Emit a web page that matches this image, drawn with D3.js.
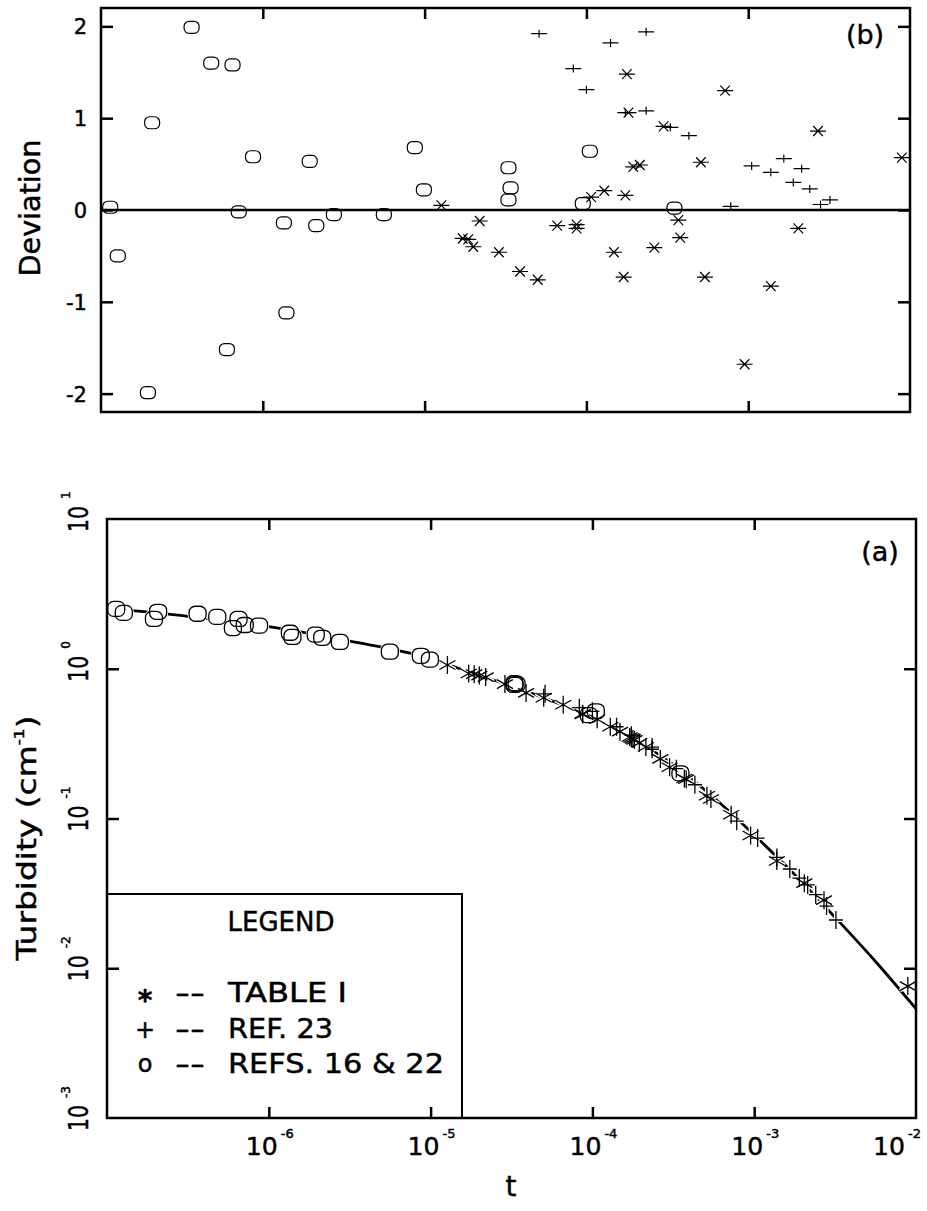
<!DOCTYPE html>
<html>
<head>
<meta charset="utf-8">
<script src="https://cdn.jsdelivr.net/npm/d3@7"></script>
<style>
  body { margin: 0; background: #fff; }
  svg { display: block; }
  text { font-family: "DejaVu Sans", sans-serif; fill: #000; stroke: #000; stroke-width: 0.45; }
</style>
</head>
<body>
<svg width="927" height="1211"></svg>
<script>
// ---- data ----
// Table I (asterisks)
var tableT   = [1.27e-5, 1.72e-5, 1.86e-5, 2.0e-5, 2.19e-5, 2.88e-5, 3.89e-5, 5.0e-5, 6.6e-5, 8.7e-5, 8.7e-5,
                1.07e-4, 1.29e-4, 1.48e-4, 1.70e-4, 1.74e-4, 1.78e-4, 1.82e-4, 1.95e-4, 2.14e-4, 2.63e-4, 3.0e-4,
                3.7e-4, 3.8e-4, 5.1e-4, 5.4e-4, 7.2e-4, 9.5e-4, 1.38e-3, 2.04e-3, 2.7e-3, 8.9e-3];
var tableTau = [1.06, 0.93, 0.92, 0.90, 0.88, 0.79, 0.69, 0.64, 0.575, 0.50, 0.495,
                0.46, 0.41, 0.38, 0.35, 0.345, 0.34, 0.335, 0.32, 0.30, 0.25, 0.22,
                0.185, 0.183, 0.142, 0.135, 0.106, 0.077, 0.052, 0.037, 0.0285, 0.0076];
var tableDev = [0.05, -0.31, -0.32, -0.40, -0.12, -0.46, -0.67, -0.76, -0.17, -0.16, -0.20,
                0.14, 0.21, -0.46, -0.73, 0.16, 1.48, 1.06, 0.47, 0.49, -0.41, 0.91,
                -0.11, -0.30, 0.52, -0.73, 1.30, -1.68, -0.83, -0.20, 0.86, 0.57];

// Ref. 23 (plus signs)
var ref23T   = [5.1e-5, 8.3e-5, 1.0e-4, 1.41e-4, 1.74e-4, 2.34e-4, 2.34e-4, 3.3e-4, 4.3e-4,
                7.8e-4, 1.05e-3, 1.38e-3, 1.66e-3, 1.9e-3, 2.14e-3, 2.4e-3, 2.8e-3, 3.2e-3];
var ref23Tau = [0.68, 0.55, 0.52, 0.41, 0.36, 0.30, 0.29, 0.215, 0.168,
                0.096, 0.074, 0.055, 0.046, 0.040, 0.036, 0.031, 0.026, 0.021];
var ref23Dev = [1.92, 1.54, 1.31, 1.82, 1.06, 1.94, 1.08, 0.90, 0.81,
                0.04, 0.48, 0.41, 0.56, 0.30, 0.45, 0.23, 0.06, 0.11];

// Refs. 16 & 22 (open circles)
var refsT   = [1.14e-7, 1.27e-7, 1.95e-7, 2.07e-7, 3.63e-7, 4.8e-7, 6.0e-7, 6.5e-7, 7.1e-7, 8.7e-7,
               1.35e-6, 1.40e-6, 1.95e-6, 2.14e-6, 2.75e-6, 5.6e-6, 8.7e-6, 9.9e-6,
               3.3e-5, 3.4e-5, 3.3e-5, 1.05e-4, 9.5e-5, 3.5e-4];
var refsTau = [2.51, 2.36, 2.15, 2.40, 2.33, 2.22, 1.87, 2.15, 1.96, 1.94,
               1.74, 1.63, 1.69, 1.61, 1.51, 1.30, 1.22, 1.15,
               0.80, 0.79, 0.78, 0.52, 0.49, 0.20];
var refsDev = [0.03, -0.50, -1.99, 0.95, 1.99, 1.60, -1.52, 1.58, -0.02, 0.58,
               -0.14, -1.12, 0.53, -0.17, -0.05, -0.05, 0.68, 0.22,
               0.46, 0.24, 0.11, 0.64, 0.07, 0.02];

// fitted turbidity curve
var curveT   = [1e-7, 3.16e-7, 1e-6, 3.16e-6, 1e-5, 1.78e-5, 3.16e-5, 5.62e-5, 1e-4, 1.78e-4,
                3.16e-4, 5.62e-4, 1e-3, 1.78e-3, 3.16e-3, 5.62e-3, 1e-2];
var curveTau = [2.54, 2.24, 1.91, 1.53, 1.17, 0.94, 0.767, 0.61, 0.473, 0.343,
                0.229, 0.138, 0.0776, 0.0422, 0.0219, 0.0111, 0.00537];

// ticks / labels
var devTicks    = [2, 1, 0, -1, -2];
var decadeTicks = [1e-6, 1e-5, 1e-4, 1e-3];
var xLabelTicks = [1e-6, 1e-5, 1e-4, 1e-3, 1e-2];
var tauTicks    = [10, 1, 0.1, 0.01, 0.001];
var legendRows  = [["*", "TABLE I"], ["+", "REF. 23"], ["o", "REFS. 16 & 22"]];

var svg = d3.select("svg");

// marker shapes
function starH(w, h) { return "M" + (-w) + ",0H" + w + "M" + (-w * 0.6) + "," + (-h) + "L" + (w * 0.6) + "," + h +
                              "M" + (-w * 0.6) + "," + h + "L" + (w * 0.6) + "," + (-h); }
function starV(w, h) { return "M0," + (-h) + "V" + h + "M" + (-w) + "," + (-h / 2) + "L" + w + "," + (h / 2) +
                              "M" + (-w) + "," + (h / 2) + "L" + w + "," + (-h / 2); }
function plus(w, h)  { return "M" + (-w) + ",0H" + w + "M0," + (-h) + "V" + h; }

function marks(g, data, x, y, kind, opt) {
  var sel = g.selectAll(null).data(data);
  if (kind === "circle") {
    return sel.enter().append("rect")
      .attr("x", function (d) { return x(d[0]) - opt.w / 2; })
      .attr("y", function (d) { return y(d[1]) - opt.h / 2; })
      .attr("width", opt.w).attr("height", opt.h)
      .attr("rx", opt.r).attr("ry", opt.r)
      .attr("fill", opt.fill || "none")
      .attr("stroke", opt.stroke).attr("stroke-width", opt.sw);
  }
  return sel.enter().append("path")
    .attr("transform", function (d) { return "translate(" + x(d[0]) + "," + y(d[1]) + ")"; })
    .attr("d", opt.path)
    .attr("fill", "none")
    .attr("stroke", opt.stroke).attr("stroke-width", opt.sw);
}

// ================= panel (b): deviation =================
var xb = d3.scaleLog().domain([1e-7, 1e-2]).range([101, 910]);
var yb = d3.scaleLinear().domain([-2.2, 2.2]).range([412, 8]);
var gB = svg.append("g");

gB.append("line")
  .attr("x1", xb.range()[0]).attr("x2", xb.range()[1])
  .attr("y1", yb(0)).attr("y2", yb(0))
  .attr("stroke", "#000").attr("stroke-width", 2.5);

marks(gB, d3.zip(refsT, refsDev), xb, yb, "circle", {w: 15, h: 12, r: 5, stroke: "#000", sw: 1.2});
marks(gB, d3.zip(ref23T, ref23Dev), xb, yb, "path", {path: plus(8, 4), stroke: "#000", sw: 1.2});
marks(gB, d3.zip(tableT, tableDev), xb, yb, "path", {path: starH(8, 5), stroke: "#000", sw: 1.2});

gB.append("g").attr("transform", "translate(" + xb.range()[0] + ",0)")
  .call(d3.axisLeft(yb).tickValues(devTicks).tickSize(-12).tickSizeOuter(0).tickPadding(14)
        .tickFormat(function (d) { return d < 0 ? "-" + Math.abs(d) : d; }))
  .call(function (g) { g.select(".domain").remove(); })
  .call(function (g) { g.selectAll("text").attr("font-size", 21).attr("font-family", "DejaVu Sans").attr("dy", "0.36em"); });
gB.append("g").attr("transform", "translate(" + xb.range()[1] + ",0)")
  .call(d3.axisRight(yb).tickValues(devTicks).tickSize(-12).tickSizeOuter(0).tickFormat(""))
  .call(function (g) { g.select(".domain").remove(); });
gB.append("g").attr("transform", "translate(0," + yb.range()[1] + ")")
  .call(d3.axisTop(xb).tickValues(decadeTicks).tickSize(-11).tickSizeOuter(0).tickFormat(""))
  .call(function (g) { g.select(".domain").remove(); });
gB.append("g").attr("transform", "translate(0," + yb.range()[0] + ")")
  .call(d3.axisBottom(xb).tickValues(decadeTicks).tickSize(-11).tickSizeOuter(0).tickFormat(""))
  .call(function (g) { g.select(".domain").remove(); });
gB.selectAll(".tick line").attr("stroke-width", 2.5);

gB.append("rect")
  .attr("x", xb.range()[0]).attr("y", yb.range()[1])
  .attr("width", xb.range()[1] - xb.range()[0]).attr("height", yb.range()[0] - yb.range()[1])
  .attr("fill", "none").attr("stroke", "#000").attr("stroke-width", 2.5);

gB.append("text").attr("transform", "translate(40,208) rotate(-90)")
  .attr("text-anchor", "middle").attr("font-size", 28)
  .attr("textLength", 137).attr("lengthAdjust", "spacingAndGlyphs")
  .text("Deviation");
gB.append("text").attr("x", 865).attr("y", 44).attr("text-anchor", "middle")
  .attr("font-size", 27).text("(b)");

// ================= panel (a): turbidity =================
var xa = d3.scaleLog().domain([1e-7, 1e-2]).range([107, 916]);
var ya = d3.scaleLog().domain([1e-3, 10]).range([1118, 519]);
var gA = svg.append("g");

gA.append("path")
  .datum(d3.zip(curveT, curveTau))
  .attr("d", d3.line().x(function (d) { return xa(d[0]); }).y(function (d) { return ya(d[1]); })
                .curve(d3.curveMonotoneX))
  .attr("fill", "none").attr("stroke", "#000").attr("stroke-width", 2.8);

// white knock-out behind the symbols, then the symbols
var halo = gA.append("g"), ink = gA.append("g");
marks(halo, d3.zip(refsT, refsTau), xa, ya, "circle", {w: 17, h: 15, r: 6, stroke: "#fff", sw: 3, fill: "#fff"});
marks(halo, d3.zip(ref23T, ref23Tau), xa, ya, "path", {path: plus(7, 9), stroke: "#fff", sw: 4});
marks(halo, d3.zip(tableT, tableTau), xa, ya, "path", {path: starV(8, 9), stroke: "#fff", sw: 4});
marks(ink, d3.zip(refsT, refsTau), xa, ya, "circle", {w: 17, h: 15, r: 6, stroke: "#000", sw: 1.3});
marks(ink, d3.zip(ref23T, ref23Tau), xa, ya, "path", {path: plus(7, 9), stroke: "#000", sw: 1.3});
marks(ink, d3.zip(tableT, tableTau), xa, ya, "path", {path: starV(8, 9), stroke: "#000", sw: 1.3});

// legend box
var lg = gA.append("g");
lg.append("rect").attr("x", 107).attr("y", 894).attr("width", 355).attr("height", 224)
  .attr("fill", "#fff").attr("stroke", "#000").attr("stroke-width", 2);
lg.append("text").attr("x", 281).attr("y", 931).attr("text-anchor", "middle")
  .attr("font-size", 26).attr("textLength", 107).attr("lengthAdjust", "spacingAndGlyphs").text("LEGEND");
var labLen = [119, 105, 216];
legendRows.forEach(function (r, i) {
  var base = 1002 + i * 35.5;
  lg.append("text").attr("x", 145).attr("y", r[0] === "*" ? base + 8 : base - (r[0] === "o" ? 1 : 0))
    .attr("text-anchor", "middle").attr("font-size", r[0] === "*" ? 28 : 24)
    .attr("font-weight", r[0] === "*" ? "bold" : "normal").text(r[0]);
  lg.append("text").attr("x", 175).attr("y", base).attr("font-size", 26)
    .attr("textLength", 30).attr("lengthAdjust", "spacingAndGlyphs").text("--");
  lg.append("text").attr("x", 228).attr("y", base).attr("font-size", 26)
    .attr("textLength", labLen[i]).attr("lengthAdjust", "spacingAndGlyphs").text(r[1]);
});

// ticks
gA.append("g").attr("transform", "translate(" + xa.range()[0] + ",0)")
  .call(d3.axisLeft(ya).tickValues(tauTicks.slice(1, 4)).tickSize(-12).tickSizeOuter(0).tickFormat(""))
  .call(function (g) { g.select(".domain").remove(); });
gA.append("g").attr("transform", "translate(" + xa.range()[1] + ",0)")
  .call(d3.axisRight(ya).tickValues(tauTicks.slice(1, 4)).tickSize(-12).tickSizeOuter(0).tickFormat(""))
  .call(function (g) { g.select(".domain").remove(); });
gA.append("g").attr("transform", "translate(0," + ya.range()[1] + ")")
  .call(d3.axisTop(xa).tickValues(decadeTicks).tickSize(-11).tickSizeOuter(0).tickFormat(""))
  .call(function (g) { g.select(".domain").remove(); });
gA.append("g").attr("transform", "translate(0," + ya.range()[0] + ")")
  .call(d3.axisBottom(xa).tickValues(decadeTicks).tickSize(-11).tickSizeOuter(0).tickFormat(""))
  .call(function (g) { g.select(".domain").remove(); });
gA.selectAll(".tick line").attr("stroke-width", 2.5);

gA.append("rect")
  .attr("x", xa.range()[0]).attr("y", ya.range()[1])
  .attr("width", xa.range()[1] - xa.range()[0]).attr("height", ya.range()[0] - ya.range()[1])
  .attr("fill", "none").attr("stroke", "#000").attr("stroke-width", 2.5);

function expOf(v) { var e = Math.round(Math.log10(v)); return e < 0 ? "-" + Math.abs(e) : String(e); }

// y tick labels (rotated "10" with exponent)
tauTicks.forEach(function (v) {
  var g = gA.append("g").attr("transform", "translate(88," + ya(v) + ") rotate(-90)");
  g.append("text").attr("x", -13).attr("font-size", 27)
    .attr("textLength", 26).attr("lengthAdjust", "spacingAndGlyphs").text("10");
  g.append("text").attr("x", 20).attr("y", -18).attr("font-size", 12).text(expOf(v));
});

// x tick labels ("10" just left of the tick, exponent to its upper right)
xLabelTicks.forEach(function (v) {
  var px = Math.min(xa(v), 896);
  gA.append("text").attr("x", px + 9).attr("y", 1155).attr("text-anchor", "end")
    .attr("font-size", 25).attr("textLength", 32).attr("lengthAdjust", "spacingAndGlyphs").text("10");
  gA.append("text").attr("x", px + 12).attr("y", 1138).attr("font-size", 13).text(expOf(v));
});

gA.append("text").attr("x", 511).attr("y", 1196).attr("text-anchor", "middle")
  .attr("font-size", 28).text("t");

var yl = gA.append("text").attr("transform", "translate(36,838) rotate(-90)")
  .attr("text-anchor", "middle").attr("font-size", 27)
  .attr("textLength", 245).attr("lengthAdjust", "spacingAndGlyphs");
yl.append("tspan").text("Turbidity (cm");
yl.append("tspan").attr("font-size", 14).attr("dy", -12).text("-1");
yl.append("tspan").attr("dy", 12).text(")");

gA.append("text").attr("x", 880).attr("y", 561).attr("text-anchor", "middle")
  .attr("font-size", 27).text("(a)");
</script>
</body>
</html>
